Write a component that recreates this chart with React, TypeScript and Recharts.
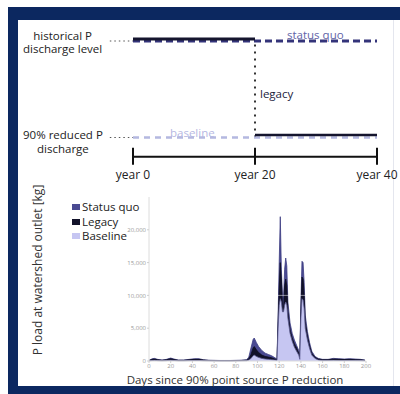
import {
  LineChart,
  Line,
  AreaChart,
  Area,
  XAxis,
  YAxis,
  ReferenceLine,
  Legend,
} from 'recharts'

// schematic (top panel)
const yearTicks = [0, 20, 40]
const historicalLevel = 1
const reducedLevel = 0.1
const statusQuoYears = [0, 40]
const historicalYears = [0, 20]
const legacyYears = [20, 40]
const baselineYears = [0, 40]
const leaderYears = [-3.8, 0]

// simulated load (bottom panel)
const days = [
  0, 3, 5, 8, 12, 16, 20, 23, 27, 32, 37, 42, 46, 50, 55, 60, 65, 70, 75, 80, 85, 90, 92, 94, 96, 97,
  99, 101, 104, 107, 110, 113, 116, 118, 119, 120, 121, 122, 123, 124, 125, 126, 127, 128, 130, 132,
  134, 136, 138, 139, 140, 141, 142, 143, 144, 146, 148, 150, 153, 156, 160, 165, 170, 175, 180, 185,
  190, 195, 199,
]
const statusQuo = [
  100, 350, 400, 250, 150, 250, 450, 300, 150, 150, 250, 350, 350, 200, 120, 100, 80, 80, 80, 100, 120,
  200, 600, 2000, 3300, 3500, 2800, 2200, 1600, 1200, 1000, 800, 500, 300, 7000, 15000, 22000, 14000,
  10000, 9500, 14000, 15700, 14500, 9000, 5800, 4200, 3200, 2400, 1600, 600, 9000, 15200, 15000, 12000,
  7000, 4500, 2800, 1500, 700, 400, 250, 250, 400, 350, 300, 350, 300, 250, 150,
]
const legacy = [
  60, 250, 300, 180, 100, 180, 350, 220, 100, 100, 180, 250, 250, 150, 80, 60, 50, 50, 50, 60, 80, 120,
  350, 1000, 2000, 2200, 1700, 1300, 900, 700, 600, 500, 300, 200, 6000, 11000, 15000, 12500, 8500,
  8000, 11500, 12500, 11500, 7500, 4800, 3500, 2600, 2000, 1200, 400, 7500, 12800, 12500, 10000, 6000,
  3800, 2300, 1200, 550, 300, 180, 180, 300, 250, 220, 250, 200, 180, 100,
]
const baseline = [
  30, 80, 100, 60, 40, 60, 120, 80, 40, 40, 60, 80, 80, 50, 30, 30, 20, 20, 20, 30, 30, 50, 150, 400,
  800, 900, 700, 550, 400, 300, 250, 200, 150, 100, 5000, 8500, 9500, 9000, 7500, 7500, 8500, 9000,
  8500, 6500, 4200, 3000, 2100, 1500, 900, 250, 6500, 9500, 9300, 8000, 5000, 3200, 1900, 900, 400,
  150, 80, 80, 100, 80, 80, 80, 70, 60, 40,
]
const loadTicks = [0, 5000, 10000, 15000, 20000]
const dayTicks = [0, 20, 40, 60, 80, 100, 120, 140, 160, 180, 200]

const seriesOrder = ['Status quo', 'Legacy', 'Baseline']
const seriesFill: Record<string, string> = {
  'Status quo': '#4a4a92',
  Legacy: '#12122a',
  Baseline: '#c6c6f2',
}

const navy = '#0c2860'
const font = "'Open Sans', sans-serif"

const toLevels = (years: number[], level: number) => years.map(year => ({ year, level }))

const YearTick = ({ x, y, payload }: any) => (
  <g>
    <line x1={x} x2={x} y1={y - 9} y2={y + 8} stroke="#111" strokeWidth={2} />
    <text x={x} y={y + 22} textAnchor="middle" fontSize={12} fill="#222" fontFamily={font}>
      {`year ${payload.value}`}
    </text>
  </g>
)

const LoadLegend = () => (
  <div style={{ fontSize: 11.5, lineHeight: '14.5px', fontFamily: font, color: '#222' }}>
    {seriesOrder.map(name => (
      <div key={name} style={{ display: 'flex', alignItems: 'center', height: 14.5 }}>
        <span style={{ width: 8, height: 6, background: seriesFill[name], marginRight: 2, display: 'inline-block' }} />
        {name}
      </div>
    ))}
  </div>
)

const Label = ({ left, top, color, children }: any) => (
  <div
    style={{
      position: 'absolute',
      left,
      top,
      color,
      fontSize: 11.5,
      lineHeight: '13.5px',
      textAlign: 'center',
      whiteSpace: 'nowrap',
      fontFamily: font,
    }}
  >
    {children}
  </div>
)

export default function App() {
  const loadData = days.map((day, i) => ({
    day,
    statusQuo: statusQuo[i],
    legacy: legacy[i],
    baseline: baseline[i],
  }))

  return (
    <div
      style={{
        position: 'absolute',
        left: 0,
        top: 0,
        width: 400,
        height: 394,
        background: '#fff',
        overflow: 'hidden',
        fontFamily: font,
      }}
    >
      <style>{`.shift-up-2 { transform: translateY(-2px); } .shift-up-3 { transform: translateY(-2.5px); }`}</style>

      {/* frame */}
      <div style={{ position: 'absolute', left: 8, top: 7, width: 392, height: 13, background: navy }} />
      <div style={{ position: 'absolute', left: 8, top: 7, width: 10, height: 387, background: navy }} />
      <div style={{ position: 'absolute', left: 8, top: 386, width: 392, height: 8, background: navy }} />
      <div style={{ position: 'absolute', left: 393, top: 20, width: 1, height: 366, background: '#e4e6ee' }} />

      {/* schematic */}
      <div style={{ position: 'absolute', left: 0, top: 0 }}>
        <LineChart width={400} height={190} margin={{ top: 30.3, right: 23, bottom: 3.2, left: 108.6 }}>
          <XAxis
            type="number"
            dataKey="year"
            domain={[-4, 40]}
            ticks={yearTicks}
            allowDataOverflow
            axisLine={false}
            tickLine={false}
            tickSize={0}
            tickMargin={0}
            height={30}
            tick={<YearTick />}
            interval={0}
          />
          <YAxis type="number" domain={[-0.08, 1.1]} hide />
          <ReferenceLine
            segment={[
              { x: 0, y: -0.08 },
              { x: 40, y: -0.08 },
            ]}
            stroke="#111"
            strokeWidth={2}
          />
          <ReferenceLine
            segment={[
              { x: 20, y: reducedLevel },
              { x: 20, y: historicalLevel },
            ]}
            stroke="#333"
            strokeWidth={2}
            strokeDasharray="2 5"
          />
          <Line data={toLevels(leaderYears, historicalLevel)} dataKey="level" stroke="#555" strokeWidth={1.2} strokeDasharray="1.5 3" dot={false} isAnimationActive={false} />
          <Line data={toLevels(leaderYears, reducedLevel)} dataKey="level" stroke="#555" strokeWidth={1.2} strokeDasharray="1.5 3" dot={false} isAnimationActive={false} />
          <Line data={toLevels(statusQuoYears, historicalLevel)} dataKey="level" stroke="#34347a" strokeWidth={3} strokeDasharray="7 4" dot={false} isAnimationActive={false} />
          <Line data={toLevels(baselineYears, reducedLevel)} dataKey="level" stroke="#b4b8e0" strokeWidth={2.5} strokeDasharray="6 5" dot={false} isAnimationActive={false} />
          <Line className="shift-up-2" data={toLevels(historicalYears, historicalLevel)} dataKey="level" stroke="#15152e" strokeWidth={3} dot={false} isAnimationActive={false} />
          <Line className="shift-up-3" data={toLevels(legacyYears, reducedLevel)} dataKey="level" stroke="#15152e" strokeWidth={2.5} dot={false} isAnimationActive={false} />
        </LineChart>
      </div>

      <Label left={23} top={28.5} color="#222">
        historical P
        <br />
        discharge level
      </Label>
      <Label left={23} top={128} color="#222">
        90% reduced P
        <br />
        discharge
      </Label>
      <Label left={287} top={28} color="#6264a8">status quo</Label>
      <Label left={260} top={87} color="#1c1c3c">legacy</Label>
      <Label left={170} top={126} color="#b6b8e2">baseline</Label>

      {/* load chart */}
      <div style={{ position: 'absolute', left: 0, top: 185 }}>
        <AreaChart width={400} height={200} data={loadData} margin={{ top: 12, right: 34, bottom: 0, left: 0 }}>
          <XAxis
            type="number"
            dataKey="day"
            domain={[0, 200]}
            ticks={dayTicks}
            interval={0}
            height={24}
            tick={{ fontSize: 6, fill: '#9a9a9a' }}
            tickSize={2}
            tickMargin={1}
            axisLine={{ stroke: '#dcdcdc' }}
            tickLine={{ stroke: '#cfcfcf' }}
          />
          <YAxis
            type="number"
            domain={[0, 25000]}
            ticks={loadTicks}
            interval={0}
            width={69}
            tick={{ fontSize: 6, fill: '#9a9a9a' }}
            tickFormatter={(v: number) => v.toLocaleString('en-US')}
            tickSize={2}
            tickMargin={1}
            axisLine={{ stroke: '#dcdcdc' }}
            tickLine={{ stroke: '#cfcfcf' }}
          />
          <Area type="linear" dataKey="statusQuo" name="Status quo" stroke="#3c3c82" strokeWidth={0.8} fill={seriesFill['Status quo']} fillOpacity={1} isAnimationActive={false} dot={false} activeDot={false} />
          <Area type="linear" dataKey="legacy" name="Legacy" stroke="#0e0e22" strokeWidth={0.8} fill={seriesFill.Legacy} fillOpacity={1} isAnimationActive={false} dot={false} activeDot={false} />
          <Area type="linear" dataKey="baseline" name="Baseline" stroke="#5c5c90" strokeWidth={0.8} fill={seriesFill.Baseline} fillOpacity={1} isAnimationActive={false} dot={false} activeDot={false} />
          <ReferenceLine y={10000} stroke="#ffffff" strokeOpacity={0.5} strokeWidth={1} />
          <Legend
            layout="vertical"
            align="left"
            verticalAlign="top"
            content={<LoadLegend />}
            wrapperStyle={{ left: 72, top: 15, width: 80 }}
          />
        </AreaChart>
      </div>

      <div
        style={{
          position: 'absolute',
          left: 37,
          top: 270,
          transform: 'translate(-50%, -50%) rotate(-90deg)',
          fontSize: 12,
          color: '#333',
          whiteSpace: 'nowrap',
          fontFamily: font,
        }}
      >
        P load at watershed outlet [kg]
      </div>
      <div
        style={{
          position: 'absolute',
          left: 235,
          top: 379,
          transform: 'translate(-50%, -50%)',
          fontSize: 11.5,
          color: '#333',
          whiteSpace: 'nowrap',
          fontFamily: font,
        }}
      >
        Days since 90% point source P reduction
      </div>
    </div>
  )
}
